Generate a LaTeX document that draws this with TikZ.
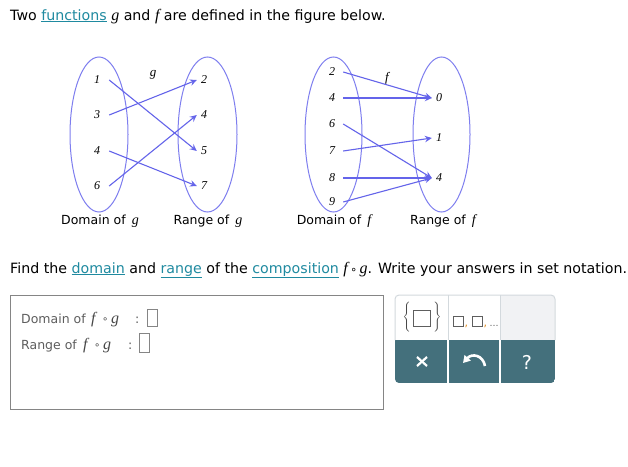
\documentclass[tikz,border=0pt]{standalone}
\usepackage{fontspec}
\setmainfont{DejaVu Sans}
\newfontfamily\mi{Liberation Serif}
\usetikzlibrary{arrows.meta}
\definecolor{linkc}{HTML}{1F8AA0}
\definecolor{ellc}{HTML}{7E7EEF}
\definecolor{arrc}{HTML}{6464EA}
\definecolor{boxgray}{HTML}{858585}
\definecolor{txtgray}{HTML}{5E5E5E}
\definecolor{cellb}{HTML}{D3D9DD}
\definecolor{cellg}{HTML}{F1F2F4}
\definecolor{tealc}{HTML}{44707C}
\definecolor{orng}{HTML}{E08A1E}
\newcommand\lnk[1]{{\color{linkc}\underline{#1}}}
\newcommand\myg{{\mi\itshape\fontsize{16}{16}\selectfont g}}
\newcommand\myf{{\mi\itshape\fontsize{16}{16}\selectfont f}}
\tikzset{
  lnum/.style={font=\mi\itshape\fontsize{12}{13}\selectfont, inner ysep=0pt, inner xsep=9pt},
  rnum/.style={font=\mi\itshape\fontsize{12}{13}\selectfont, inner ysep=0pt, inner xsep=4pt},
  flab/.style={font=\mi\itshape\fontsize{13}{14}\selectfont, inner sep=0pt},
  ell/.style={draw=ellc, line width=1pt},
  arr/.style={draw=arrc, line width=1.1pt, -{Stealth[length=7pt,width=6.5pt,inset=2.5pt]}},
  captxt/.style={font=\fontsize{12.5}{14}\selectfont, inner sep=0pt},
  txtline/.style={font=\fontsize{14.2}{16}\selectfont, inner sep=0pt, anchor=base west},
  anstxt/.style={font=\fontsize{12.5}{15}\selectfont, text=txtgray, inner sep=0pt, anchor=base west},
  ansvar/.style={font=\mi\itshape\fontsize{16}{16}\selectfont, text=black!72, inner sep=0pt, anchor=base west},
  anscirc/.style={font=\fontsize{10}{10}\selectfont, text=black!72, inner sep=0pt, anchor=base west},
  slotbox/.style={draw=boxgray, line width=0.8pt, inner sep=0pt, minimum width=10pt},
}
\begin{document}
\begin{tikzpicture}[x=1pt,y=-1pt]
\useasboundingbox[fill=white] (0,0) rectangle (628,466);

\node[txtline] (title) at (10,20) {Two \lnk{functions} \myg{} and \myf{} are defined in the figure below.};

% ---- g diagram
\draw[ell] (99,134.5) ellipse [x radius=29, y radius=77.5];
\draw[ell] (207.5,134.5) ellipse [x radius=29.5, y radius=77.5];
\node[lnum] (g1) at (97,80) {1};
\node[lnum] (g3) at (97,115) {3};
\node[lnum] (g4) at (97,151) {4};
\node[lnum] (g6) at (97,186) {6};
\node[rnum] (h2) at (204,80) {2};
\node[rnum] (h4) at (204,115) {4};
\node[rnum] (h5) at (204,151) {5};
\node[rnum] (h7) at (204,186) {7};
\node[flab] (glab) at (153,75) {g};
\draw[arr] (g1.east) -- (h5.west);
\draw[arr] (g3.east) -- (h2.west);
\draw[arr] (g4.east) -- (h7.west);
\draw[arr] (g6.east) -- (h4.west);
\node[captxt] (domg) at (100,221) {Domain of \,{\mi\itshape\fontsize{14}{14}\selectfont g}};
\node[captxt] (rang) at (208,221) {Range of \,{\mi\itshape\fontsize{14}{14}\selectfont g}};

% ---- f diagram
\draw[ell] (333.5,134.5) ellipse [x radius=28.5, y radius=77.5];
\draw[ell] (441.5,134.5) ellipse [x radius=28.5, y radius=77.5];
\node[lnum, inner xsep=8pt] (f2) at (332,72) {2};
\node[lnum, inner xsep=8pt] (f4) at (332,98) {4};
\node[lnum, inner xsep=8pt] (f6) at (332,124) {6};
\node[lnum, inner xsep=8pt] (f7) at (332,151) {7};
\node[lnum, inner xsep=8pt] (f8) at (332,178) {8};
\node[lnum, inner xsep=8pt] (f9) at (332,202) {9};
\node[rnum] (e0) at (439,98) {0};
\node[rnum] (e1) at (439,138) {1};
\node[rnum] (e4) at (439,178) {4};
\node[flab] (flab) at (387,78) {f};
\draw[arr] (f2.east) -- (e0.west);
\draw[arr] (f4.east) -- (e0.west);
\draw[arr] (f6.east) -- (e4.west);
\draw[arr] (f7.east) -- (e1.west);
\draw[arr] (f8.east) -- (e4.west);
\draw[arr] (f9.east) -- (e4.west);
\node[captxt] (domf) at (334,221) {Domain of \,{\mi\itshape\fontsize{14}{14}\selectfont f}};
\node[captxt] (ranf) at (443,221) {Range of \,{\mi\itshape\fontsize{14}{14}\selectfont f}};

% ---- question
\node[txtline] (question) at (10,273) {Find the \lnk{domain} and \lnk{range} of the \lnk{composition} \myf\,{\fontsize{11}{12}\selectfont ∘}\,\myg. Write your answers in set notation.};

% ---- answer box
\node[draw=boxgray, line width=1pt, anchor=north west, minimum width=373pt, minimum height=114pt, inner sep=0pt] (answerbox) at (10,295) {};
\node[anstxt] (domtxt) at (21,323) {Domain of};
\node[ansvar] (domf1) at (91,323) {f};
\node[anscirc] (domc) at (102,322) {∘};
\node[ansvar] (domg1) at (111,323) {g};
\node[anstxt] (domcol) at (135,323) {:};
\node[slotbox, anchor=north west, minimum height=17pt] (domslot) at (147,309) {};
\node[anstxt] (rantxt) at (21,349) {Range of};
\node[ansvar] (ranf1) at (83,349) {f};
\node[anscirc] (ranc) at (94,348) {∘};
\node[ansvar] (rang1) at (103,349) {g};
\node[anstxt] (rancol) at (128,349) {:};
\node[slotbox, anchor=north west, minimum height=19pt] (ranslot) at (139,333) {};

% ---- toolbar
\begin{scope}
\clip[rounded corners=4pt] (395,295) rectangle (555,383);
\fill[white] (395,295) rectangle (500,340);
\fill[cellg] (500,295) rectangle (555,340);
\fill[tealc] (395,340) rectangle (555,383);
\draw[cellb, line width=1pt] (448,295) -- (448,340);
\draw[cellb, line width=1pt] (500,295) -- (500,340);
\draw[white, line width=1.5pt] (448,340) -- (448,383);
\draw[white, line width=1.5pt] (500,340) -- (500,383);
\end{scope}
\draw[cellb, line width=1pt, rounded corners=4pt] (395,340) |- (555,295) -- (555,340);
% set braces icon
\node[draw=txtgray, line width=0.8pt, minimum width=17pt, minimum height=16pt, inner sep=0pt] (sq) at (422,318) {};
\node[text=black!75, inner sep=0pt, anchor=east] (lbr) at ([xshift=-1pt]sq.west) {$\left\{\vrule height 14pt depth 14pt width 0pt\right.$};
\node[text=black!75, inner sep=0pt, anchor=west] (rbr) at ([xshift=1pt]sq.east) {$\left.\vrule height 14pt depth 14pt width 0pt\right\}$};
% list icon
\node[draw=txtgray, line width=0.7pt, minimum width=10pt, minimum height=10pt, inner sep=0pt] (s1) at (458,321.5) {};
\node[font=\fontsize{11}{11}\selectfont, text=orng, inner sep=0pt, anchor=base west] (c1) at ([xshift=1pt]s1.south east) {,};
\node[draw=txtgray, line width=0.7pt, minimum width=10pt, minimum height=10pt, inner sep=0pt] (s2) at (477,321.5) {};
\node[font=\fontsize{11}{11}\selectfont, text=orng, inner sep=0pt, anchor=base west] (c2) at ([xshift=1pt]s2.south east) {,};
\node[font=\fontsize{9}{9}\selectfont, text=txtgray, inner sep=0pt, anchor=base west] (dots) at ([xshift=7pt]s2.south east) {…};
% bottom icons
\coordinate (xc) at (422,361.5);
\draw[white, line width=2.2pt] ([shift={(-5,-4.5)}]xc) -- ([shift={(5,4.5)}]xc);
\draw[white, line width=2.2pt] ([shift={(-5,4.5)}]xc) -- ([shift={(5,-4.5)}]xc);
\coordinate (ua) at (485,366);
\coordinate (ub) at (463,363);
\draw[white, line width=2.6pt, -{Triangle[length=7pt,width=8pt]}] (ua) .. controls (483,355) and (472,353) .. (ub);
\node[font=\fontsize{19}{19}\selectfont, text=white, inner sep=0pt] (help) at (527,362) {?};
\end{tikzpicture}
\end{document}
